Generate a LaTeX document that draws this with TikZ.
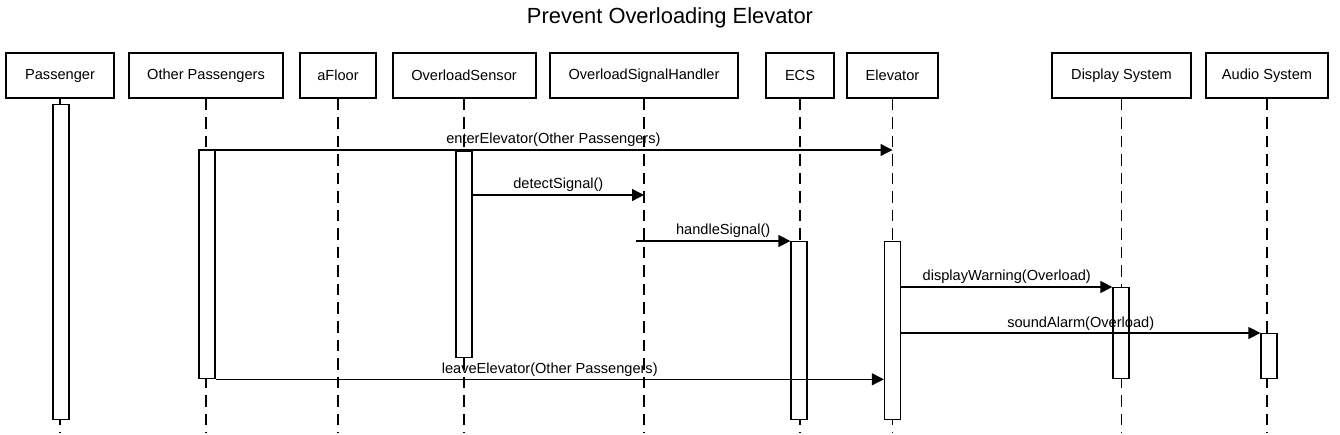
\documentclass[tikz,border=0pt]{standalone}
\usepackage{fontspec}
\setmainfont{Liberation Sans}
\usetikzlibrary{arrows.meta}
\begin{document}
\begin{tikzpicture}[x=1pt,y=-1pt,
  actor/.style={draw,line width=2pt,minimum height=45pt,inner sep=0pt,font=\fontsize{14.6}{16}\selectfont,anchor=north},
  life/.style={line width=1.3pt,dash pattern=on 11.5pt off 7pt,draw=black},
  act/.style={draw,line width=1.3pt,fill=white,minimum width=16pt,inner sep=0pt,anchor=north},
  msg/.style={line width=1.4pt,-{Triangle[length=12pt,width=12pt]}},
  lbl/.style={font=\fontsize{14.6}{16}\selectfont,inner sep=0pt,anchor=base,yshift=6pt}
]
\useasboundingbox (0,0) rectangle (1340,435);
\node[font=\fontsize{21.9}{24}\selectfont] (title) at (670,18) {Prevent Overloading Elevator};
% actor boxes
\node[actor,minimum width=108pt] (pas) at (60,52) {Passenger};
\node[actor,minimum width=154pt] (op) at (206,52) {Other Passengers};
\node[actor,minimum width=76pt] (af) at (338,52) {aFloor};
\node[actor,minimum width=143pt] (os) at (464,52) {OverloadSensor};
\node[actor,minimum width=188pt] (osh) at (644,52) {OverloadSignalHandler};
\node[actor,minimum width=68pt] (ecs) at (800,52) {ECS};
\node[actor,minimum width=91pt] (el) at (892.5,52) {Elevator};
\node[actor,minimum width=139pt] (ds) at (1121.5,52) {Display System};
\node[actor,minimum width=122pt] (as) at (1267,52) {Audio System};
% lifeline ends
\foreach \n in {pas,op,af,os,osh,ecs,el,ds,as}{
  \coordinate (\n-end) at (\n.south |- 0,433);
  \draw[life] (\n.south) -- (\n-end);
}
% activations
\node[act,minimum height=315pt] (pasact) at (61,104) {};
\node[act,minimum height=228pt] (opact) at (207,150) {};
\node[act,minimum height=206pt] (osact) at (464,151) {};
\node[act,minimum height=178pt] (ecsact) at (799,241) {};
\node[act,minimum height=178pt] (elact) at (892.5,241) {};
\node[act,minimum height=91pt] (dsact) at (1121,287) {};
\node[act,minimum height=45pt] (asact) at (1269,333) {};
% message coordinates
\coordinate (m1end) at (opact.north west -| el.south);
\coordinate (m2start) at (osact.east |- 0,195);
\coordinate (m2end) at (m2start -| osh.south);
\coordinate (m3start) at (ecsact.north west -| 636,0);
\coordinate (m4start) at (dsact.north west -| elact.east);
\coordinate (m5start) at (asact.north west -| elact.east);
\coordinate (m6end) at (opact.south east -| elact.west);
% messages
\draw[msg] (opact.north west) -- node[lbl,xshift=8pt] {enterElevator(Other Passengers)} (m1end);
\draw[msg] (m2start) -- node[lbl] {detectSignal()} (m2end);
\draw[msg] (m3start) -- node[lbl,xshift=10pt] {handleSignal()} (ecsact.north west);
\draw[msg] (m4start) -- node[lbl] {displayWarning(Overload)} (dsact.north west);
\draw[msg] (m5start) -- node[lbl] {soundAlarm(Overload)} (asact.north west);
\draw[msg] (opact.south east) -- node[lbl] {leaveElevator(Other Passengers)} (m6end);
\end{tikzpicture}
\end{document}
